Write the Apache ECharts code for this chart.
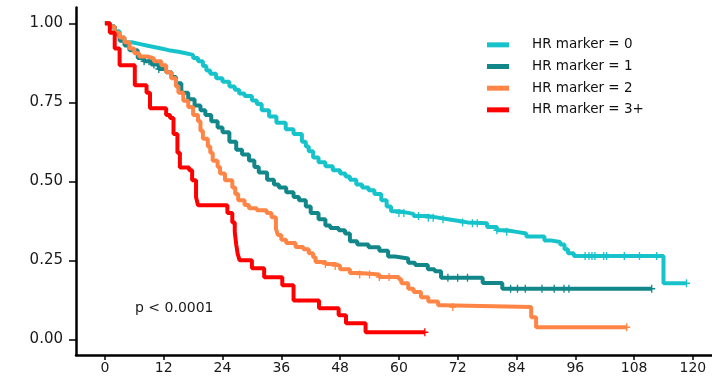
<!DOCTYPE html>
<html>
<head>
<meta charset="utf-8">
<script src="https://cdn.jsdelivr.net/npm/echarts@6/dist/echarts.min.js"></script>
<style>html,body{margin:0;padding:0;background:#fff;}#c{width:712px;height:383px;}</style>
</head>
<body>
<div id="c"></div>
<script>
// ---- data ----
var seriesNames = ['HR marker = 0', 'HR marker = 1', 'HR marker = 2', 'HR marker = 3+'];
var xTicks = [0, 12, 24, 36, 48, 60, 72, 84, 96, 108, 120];
var yTicks = [0, 0.25, 0.5, 0.75, 1];
var pText = 'p < 0.0001';

// Kaplan-Meier steps: [month, survival after that time]
var km0 = [[0,1.0],[1,0.99],[2,0.975],[3,0.955],[4,0.94],[5.5,0.935],[7,0.93],[8.5,0.925],[10,0.92],[11.5,0.915],[13,0.91],[15,0.905],[16.5,0.9],[18,0.89],[19,0.88],[20,0.865],[20.7,0.851],[21.5,0.84],[22.7,0.826],[24,0.815],[25.4,0.8],[26.5,0.79],[27.4,0.778],[28.5,0.77],[30,0.756],[31,0.745],[32,0.725],[33.5,0.705],[35,0.685],[36.9,0.665],[38.5,0.65],[40.2,0.625],[41,0.61],[41.6,0.595],[42.5,0.575],[43.6,0.56],[45,0.548],[46.5,0.535],[48,0.525],[49.1,0.515],[50,0.505],[51.3,0.49],[52.5,0.48],[53.8,0.472],[55,0.46],[56.4,0.44],[57.5,0.42],[58.4,0.405],[60,0.4],[61.9,0.397],[63,0.39],[65.9,0.385],[68,0.38],[70,0.375],[72,0.37],[74,0.367],[78,0.355],[80,0.345],[82,0.34],[84,0.335],[86,0.325],[89.7,0.313],[91,0.308],[92.9,0.3],[93.8,0.285],[94.5,0.272],[95.7,0.264],[114,0.177],[118.7,0.177]];
var km1 = [[0,1.0],[1,0.99],[2,0.965],[3,0.945],[4,0.93],[5,0.915],[6.7,0.89],[8,0.88],[9.5,0.87],[11,0.855],[12.5,0.845],[13.6,0.83],[14.5,0.81],[15.6,0.78],[17,0.76],[18.3,0.74],[19.5,0.725],[20.5,0.71],[21.7,0.69],[23,0.67],[24,0.655],[25.4,0.625],[26.8,0.6],[28,0.585],[29.4,0.566],[30.5,0.545],[31.4,0.528],[33.1,0.505],[34.5,0.49],[35.5,0.48],[37,0.465],[38.5,0.45],[39.6,0.44],[41,0.42],[42,0.4],[43.6,0.38],[45,0.36],[46,0.352],[47.7,0.345],[49,0.335],[50,0.31],[51.5,0.3],[53.8,0.291],[56,0.28],[57.8,0.262],[59.2,0.256],[61.9,0.242],[63.3,0.235],[65.9,0.222],[67.3,0.215],[68.6,0.195],[77.1,0.178],[81.1,0.16],[111.6,0.16]];
var km2 = [[0,1.0],[1,0.99],[2,0.97],[3,0.955],[4,0.94],[5,0.92],[6,0.905],[7,0.895],[8.7,0.889],[10,0.88],[11.5,0.867],[12.5,0.845],[13.5,0.826],[14.5,0.8],[15,0.78],[16,0.755],[17,0.735],[18,0.71],[19,0.69],[19.5,0.66],[20,0.635],[21,0.61],[21.5,0.59],[22,0.565],[23,0.545],[23.5,0.525],[24.5,0.503],[26,0.48],[26.6,0.46],[27.2,0.44],[28.5,0.425],[29.4,0.415],[31,0.408],[33,0.4],[34,0.386],[34.9,0.35],[35.3,0.33],[36,0.315],[37,0.305],[38.9,0.292],[40.5,0.285],[41.6,0.272],[42.5,0.26],[43,0.245],[45,0.238],[47,0.232],[48,0.222],[50,0.21],[52,0.205],[56,0.197],[60,0.19],[60.5,0.177],[61.9,0.16],[63,0.15],[64.5,0.133],[66,0.12],[68,0.108],[69,0.102],[87,0.07],[88,0.038],[106.5,0.038]];
var km3 = [[0,1.0],[1,0.97],[2,0.92],[3,0.867],[6.1,0.804],[8.5,0.78],[9.2,0.731],[12.5,0.71],[13.3,0.7],[14,0.65],[14.8,0.59],[15.3,0.544],[17.2,0.535],[17.8,0.503],[18.6,0.45],[19,0.424],[25,0.4],[26,0.37],[26.5,0.34],[26.8,0.3],[27.1,0.27],[27.5,0.25],[30,0.225],[32.5,0.196],[36.2,0.171],[38.5,0.123],[43.7,0.098],[47.7,0.076],[49.2,0.051],[53.2,0.022],[65.3,0.022]];

// censoring times (months)
var cens0 = [60,61,64,66,67,69,73,75,76,80,82,98,98.8,99.4,100,101.8,102.4,106,109.1,112.6,118.7];
var cens1 = [8,9,10,11,70,72,74,82.8,84.2,85.8,89.2,91.7,93.7,94.7,111.6];
var cens2 = [45,47,52,54,56,58,71,106.5];
var cens3 = [65.3];

var colors = ['#17C3CA', '#12878A', '#FF8546', '#FF0000'];

// ---- build chart ----
function survAt(curve, t) {
  var s = curve[0][1];
  for (var i = 0; i < curve.length; i++) { if (curve[i][0] <= t) s = curve[i][1]; }
  return s;
}
var curves = [km0, km1, km2, km3];
var censors = [cens0, cens1, cens2, cens3];
var FONT = 'DejaVu Sans';
var series = [];
curves.forEach(function (c, i) {
  series.push({
    name: seriesNames[i], type: 'line', step: 'end', data: c,
    showSymbol: false, symbol: 'none', silent: true,
    lineStyle: { width: 4, color: colors[i] }, itemStyle: { color: colors[i] },
    z: 2 + i
  });
});
curves.forEach(function (c, i) {
  series.push({
    name: 'censor' + i, type: 'scatter', silent: true,
    data: censors[i].map(function (t) { return [t, survAt(c, t)]; }),
    symbol: 'path://M5,0L5,10M0,5L10,5', symbolSize: [7, 8],
    itemStyle: { color: 'rgba(0,0,0,0)', borderColor: colors[i], borderWidth: 1.4, opacity: 1 },
    z: 2 + i
  });
});

var chart = echarts.init(document.getElementById('c'), null, { renderer: 'canvas' });
chart.setOption({
  animation: false,
  backgroundColor: '#ffffff',
  grid: { left: 76, top: 7.5, width: 641, height: 347.6, containLabel: false },
  xAxis: {
    type: 'value', min: -5.9, max: 123.9,
    axisLine: { show: true, onZero: false, lineStyle: { color: '#000', width: 2.5 } },
    axisTick: { show: true, customValues: xTicks, length: 5, lineStyle: { color: '#000', width: 1.5 } },
    axisLabel: { customValues: xTicks, margin: 6, color: '#1a1a1a', fontFamily: FONT, fontSize: 14 },
    splitLine: { show: false }
  },
  yAxis: {
    type: 'value', min: -0.05, max: 1.05,
    axisLine: { show: true, onZero: false, lineStyle: { color: '#000', width: 2.5 } },
    axisTick: { show: true, customValues: yTicks, length: 7, lineStyle: { color: '#000', width: 1.5 } },
    axisLabel: { customValues: yTicks, margin: 13, color: '#1a1a1a', fontFamily: FONT, fontSize: 15,
      formatter: function (v) { return v.toFixed(2); } },
    splitLine: { show: false }
  },
  legend: {
    data: seriesNames, orient: 'vertical', left: 482, top: 29,
    icon: 'rect', itemWidth: 22, itemHeight: 5, itemGap: 0,
    textStyle: { fontFamily: FONT, fontSize: 13.5, color: '#111', lineHeight: 21.67, padding: [0, 0, 0, 18] },
    selectedMode: false
  },
  graphic: [{
    type: 'text', left: 135, top: 301,
    style: { text: pText, font: '14px "DejaVu Sans"', fill: '#1a1a1a' }
  }],
  series: series
});
</script>
</body>
</html>
